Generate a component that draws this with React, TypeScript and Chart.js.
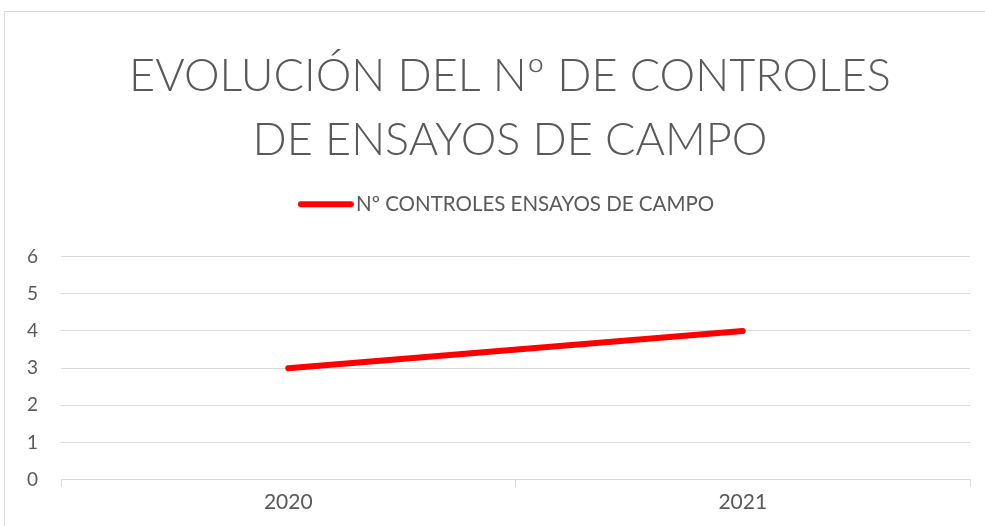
import React, { useEffect, useRef } from "react";
import { Chart, registerables } from "chart.js";

Chart.register(...registerables);

const categories = ["2020", "2021"];
const seriesName = "Nº CONTROLES ENSAYOS DE CAMPO";
const seriesValues = [3, 4];
const titleLines = ["EVOLUCIÓN DEL Nº DE CONTROLES", "DE ENSAYOS DE CAMPO"];

const GRAY_TEXT = "#595959";
const GRID = "#d9d9d9";
const RED = "#ff0000";

const legendSpacing = {
  id: "legendSpacing",
  beforeInit(chart: any) {
    const legend = chart.legend;
    if (!legend) return;
    const origFit = legend.fit;
    legend.fit = function fit() {
      origFit.call(this);
      this.height += 32;
    };
  },
};

function makeLegendLine(): HTMLCanvasElement {
  const c = document.createElement("canvas");
  c.width = 56;
  c.height = 8;
  const g = c.getContext("2d")!;
  g.strokeStyle = RED;
  g.lineWidth = 6;
  g.lineCap = "round";
  g.beginPath();
  g.moveTo(3, 4);
  g.lineTo(53, 4);
  g.stroke();
  return c;
}

export default function App() {
  const ref = useRef<HTMLCanvasElement | null>(null);
  useEffect(() => {
    document.body.style.margin = "0";
    const ctx = ref.current!;
    const legendLine = makeLegendLine();
    const chart = new Chart(ctx, {
      type: "line",
      data: {
        labels: categories,
        datasets: [
          {
            label: seriesName,
            data: seriesValues,
            borderColor: RED,
            backgroundColor: RED,
            borderWidth: 6,
            borderCapStyle: "round",
            pointRadius: 0,
            pointHoverRadius: 0,
            pointStyle: legendLine as any,
            tension: 0,
          },
        ],
      },
      plugins: [legendSpacing],
      options: {
        responsive: false,
        animation: false,
        devicePixelRatio: 1,
        layout: { padding: { left: 0, right: 0, top: 0, bottom: 8 } },
        plugins: {
          tooltip: { enabled: false },
          title: {
            display: true,
            text: titleLines,
            color: GRAY_TEXT,
            font: { family: "Lato", size: 45, weight: "300", lineHeight: 64 / 45 },
            padding: { top: 33, bottom: 12 },
          },
          legend: {
            display: true,
            labels: {
              color: GRAY_TEXT,
              font: { family: "Lato", size: 20.5 },
              usePointStyle: true,
              pointStyleWidth: 40,
              boxHeight: 6,
            },
          },
        },
        scales: {
          x: {
            offset: true,
            grid: {
              offset: true,
              drawOnChartArea: false,
              drawTicks: true,
              tickLength: 7,
              color: GRID,
            },
            border: { display: true, color: GRID, width: 1 },
            ticks: { color: GRAY_TEXT, font: { family: "Lato", size: 21 }, padding: 3 },
          },
          y: {
            min: 0,
            max: 6,
            ticks: { stepSize: 1, color: GRAY_TEXT, font: { family: "Lato", size: 19 }, padding: 23 },
            grid: { color: GRID, drawTicks: false },
            border: { display: false },
            afterFit: (scale: any) => {
              scale.width = 57;
            },
          },
          yRightSpace: {
            position: "right",
            display: true,
            grid: { display: false, drawTicks: false },
            border: { display: false },
            ticks: { display: false },
            afterFit: (scale: any) => {
              scale.width = 46;
            },
          },
        },
      },
    });
    return () => chart.destroy();
  }, []);

  return (
    <div style={{ position: "absolute", left: 0, top: 0, width: 985, height: 526, overflow: "hidden", background: "#fff" }}>
      <div
        style={{
          position: "absolute",
          left: 4,
          top: 11,
          width: 1012,
          height: 600,
          border: `1px solid ${GRID}`,
          boxSizing: "border-box",
        }}
      />
      <canvas ref={ref} width={1012} height={515} style={{ position: "absolute", left: 4, top: 11, width: 1012, height: 515 }} />
    </div>
  );
}
